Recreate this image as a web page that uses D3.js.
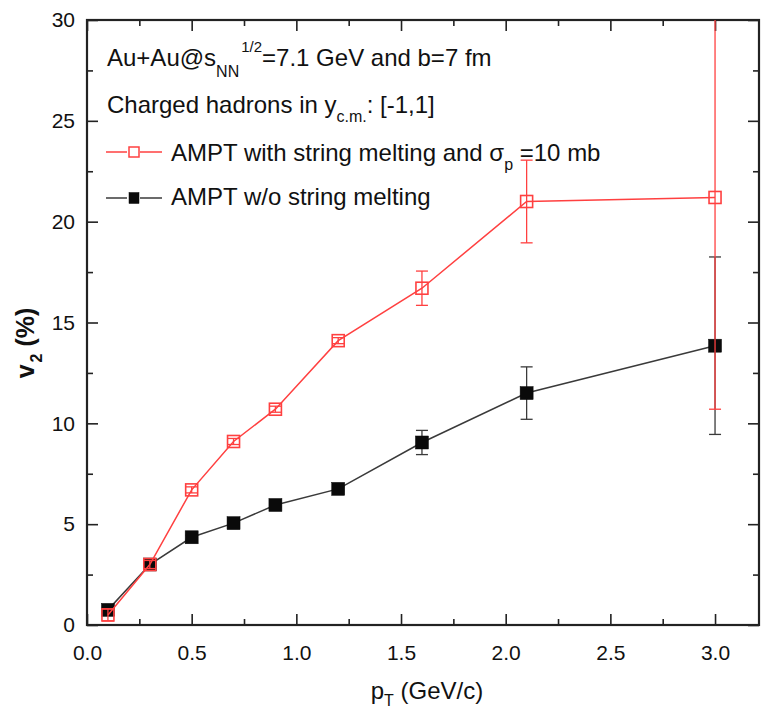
<!DOCTYPE html>
<html>
<head>
<meta charset="utf-8">
<script src="https://cdn.jsdelivr.net/npm/d3@7"></script>
<style>
  html, body { margin: 0; padding: 0; background: #ffffff; }
  svg { display: block; font-family: "Liberation Sans", Arial, Helvetica, sans-serif; }
</style>
</head>
<body>
<svg id="chart" width="762" height="716"></svg>
<script>
// Transverse momentum bins (GeV/c)
const pT = [0.1, 0.3, 0.5, 0.7, 0.9, 1.2, 1.6, 2.1, 3.0];

// v2 (%) with string melting, sigma_p = 10 mb
const v2Melting = [0.5, 3.0, 6.7, 9.1, 10.7, 14.1, 16.7, 21.0, 21.2];
const errMelting = [0.3, 0.2, 0.15, 0.15, 0.15, 0.15, 0.85, 2.05, 10.5];

// v2 (%) without string melting
const v2Default = [0.75, 3.0, 4.35, 5.05, 5.95, 6.75, 9.05, 11.5, 13.85];
const errDefault = [0.1, 0.1, 0.1, 0.1, 0.1, 0.1, 0.6, 1.3, 4.4];

const xTicks = [0.0, 0.5, 1.0, 1.5, 2.0, 2.5, 3.0];
const yTicks = [0, 5, 10, 15, 20, 25, 30];

const svg = d3.select("#chart");
const plotL = 87, plotR = 759, plotT = 20, plotB = 625;

const x = d3.scaleLinear().domain([0, 3.21]).range([plotL, plotR]);
const y = d3.scaleLinear().domain([0, 30]).range([plotB, plotT]);

const axisColor = "#222";
const redColor = "#ff4040";
const blackColor = "#0a0a0a";
const grayLine = "#3a3a3a";

// Frame axes with inward ticks (major + minor)
const minorX = d3.range(0.25, 3.21, 0.5);
const minorY = d3.range(2.5, 30, 5);

function tickAxis(g, axisGen) {
  g.call(axisGen);
  g.select(".domain").remove();
  g.selectAll("line").attr("stroke", axisColor).attr("stroke-width", 1.6);
}
function styleLabels(g) {
  g.selectAll("text").attr("font-size", 21).attr("fill", "#111")
    .attr("font-family", "Liberation Sans, Arial, sans-serif");
}

// bottom
svg.append("g").attr("transform", `translate(0,${plotB})`)
  .call(g => tickAxis(g, d3.axisBottom(x).tickValues(xTicks).tickSizeInner(-11).tickSizeOuter(0).tickPadding(20).tickFormat(d3.format(".1f"))))
  .call(styleLabels);
svg.append("g").attr("transform", `translate(0,${plotB})`)
  .call(g => tickAxis(g, d3.axisBottom(x).tickValues(minorX).tickSizeInner(-6).tickSizeOuter(0).tickFormat("")));
// top
svg.append("g").attr("transform", `translate(0,${plotT})`)
  .call(g => tickAxis(g, d3.axisTop(x).tickValues(xTicks).tickSizeInner(-11).tickSizeOuter(0).tickFormat("")));
svg.append("g").attr("transform", `translate(0,${plotT})`)
  .call(g => tickAxis(g, d3.axisTop(x).tickValues(minorX).tickSizeInner(-6).tickSizeOuter(0).tickFormat("")));
// left
svg.append("g").attr("transform", `translate(${plotL},0)`)
  .call(g => tickAxis(g, d3.axisLeft(y).tickValues(yTicks).tickSizeInner(-11).tickSizeOuter(0).tickPadding(12).tickFormat(d3.format("d"))))
  .call(styleLabels);
svg.append("g").attr("transform", `translate(${plotL},0)`)
  .call(g => tickAxis(g, d3.axisLeft(y).tickValues(minorY).tickSizeInner(-6).tickSizeOuter(0).tickFormat("")));
// right
svg.append("g").attr("transform", `translate(${plotR},0)`)
  .call(g => tickAxis(g, d3.axisRight(y).tickValues(yTicks).tickSizeInner(-11).tickSizeOuter(0).tickFormat("")));
svg.append("g").attr("transform", `translate(${plotR},0)`)
  .call(g => tickAxis(g, d3.axisRight(y).tickValues(minorY).tickSizeInner(-6).tickSizeOuter(0).tickFormat("")));

// frame
svg.append("rect").attr("x", plotL).attr("y", plotT).attr("width", plotR - plotL).attr("height", plotB - plotT)
  .attr("fill", "none").attr("stroke", axisColor).attr("stroke-width", 2.2);

// clip for data
svg.append("clipPath").attr("id", "plotClip").append("rect")
  .attr("x", plotL).attr("y", plotT).attr("width", plotR - plotL).attr("height", plotB - plotT);

const plot = svg.append("g").attr("clip-path", "url(#plotClip)");

function drawSeries(values, errs, color, filled, lineColor) {
  const pts = pT.map((p, i) => ({ p, v: values[i], e: errs[i] }));
  const g = plot.append("g");
  // connecting line
  g.append("path").datum(pts)
    .attr("d", d3.line().x(d => x(d.p)).y(d => y(d.v)))
    .attr("fill", "none").attr("stroke", lineColor).attr("stroke-width", 1.5);
  // error bars
  const eb = g.selectAll(".eb").data(pts).join("g");
  eb.append("line")
    .attr("x1", d => x(d.p)).attr("x2", d => x(d.p))
    .attr("y1", d => y(d.v + d.e)).attr("y2", d => y(d.v - d.e))
    .attr("stroke", lineColor).attr("stroke-width", 1.3);
  [1, -1].forEach(s => {
    eb.append("line")
      .attr("x1", d => x(d.p) - 6).attr("x2", d => x(d.p) + 6)
      .attr("y1", d => y(d.v + s * d.e)).attr("y2", d => y(d.v + s * d.e))
      .attr("stroke", lineColor).attr("stroke-width", 1.3);
  });
  // markers
  const sz = filled ? 13 : 12;
  g.selectAll(".mk").data(pts).join("rect")
    .attr("x", d => x(d.p) - sz / 2).attr("y", d => y(d.v) - sz / 2)
    .attr("width", sz).attr("height", sz)
    .attr("fill", filled ? color : "none")
    .attr("stroke", color).attr("stroke-width", filled ? 0.5 : 1.6);
}

drawSeries(v2Default, errDefault, blackColor, true, grayLine);
drawSeries(v2Melting, errMelting, redColor, false, redColor);

// Annotation text
const txt = svg.append("g").attr("font-size", 24).attr("fill", "#111");
const t1 = txt.append("text").attr("x", 107).attr("y", 66);
t1.append("tspan").text("Au+Au@s");
t1.append("tspan").attr("font-size", 16).attr("dy", 11).text("NN");
t1.append("tspan").attr("font-size", 15).attr("dx", 2).attr("dy", -25).text("1/2");
t1.append("tspan").attr("dy", 14).text("=7.1 GeV and b=7 fm");

const t2 = txt.append("text").attr("x", 107).attr("y", 113);
t2.append("tspan").text("Charged hadrons in y");
t2.append("tspan").attr("font-size", 16).attr("dy", 9).text("c.m.");
t2.append("tspan").attr("dy", -9).text(": [-1,1]");

// Legend
const legend = [
  { label: ["AMPT with string melting and σ", "p", " =10 mb"], color: redColor, line: redColor, filled: false, y: 152, base: 161 },
  { label: ["AMPT w/o string melting"], color: blackColor, line: grayLine, filled: true, y: 198, base: 205 }
];
legend.forEach(l => {
  const g = svg.append("g");
  g.append("line").attr("x1", 106).attr("x2", 127).attr("y1", l.y).attr("y2", l.y)
    .attr("stroke", l.line).attr("stroke-width", 1.5);
  g.append("line").attr("x1", 140).attr("x2", 162).attr("y1", l.y).attr("y2", l.y)
    .attr("stroke", l.line).attr("stroke-width", 1.5);
  const w = l.filled ? 10 : 10, h = l.filled ? 11 : 10;
  g.append("rect").attr("x", 134 - w / 2).attr("y", l.y - h / 2).attr("width", w).attr("height", h)
    .attr("fill", l.filled ? l.color : "#fff").attr("stroke", l.color).attr("stroke-width", l.filled ? 0.5 : 1.5);
  const t = g.append("text").attr("x", 171).attr("y", l.base).attr("font-size", 24).attr("fill", "#111");
  t.append("tspan").text(l.label[0]);
  if (l.label.length > 1) {
    t.append("tspan").attr("font-size", 16).attr("dy", 9).text(l.label[1]);
    t.append("tspan").attr("dy", -9).text(l.label[2]);
  }
});

// Axis titles
const xt = svg.append("text").attr("x", 427).attr("y", 699).attr("text-anchor", "middle")
  .attr("font-size", 24).attr("fill", "#111");
xt.append("tspan").text("p");
xt.append("tspan").attr("font-size", 16).attr("dy", 7).text("T");
xt.append("tspan").attr("dy", -7).text(" (GeV/c)");

const yt = svg.append("text").attr("transform", "translate(34,343) rotate(-90)").attr("text-anchor", "middle")
  .attr("font-size", 25).attr("font-weight", "bold").attr("fill", "#111");
yt.append("tspan").text("v");
yt.append("tspan").attr("font-size", 16).attr("dy", 8).attr("dx", 2).text("2");
yt.append("tspan").attr("dy", -8).text("  (%)");
</script>
</body>
</html>
